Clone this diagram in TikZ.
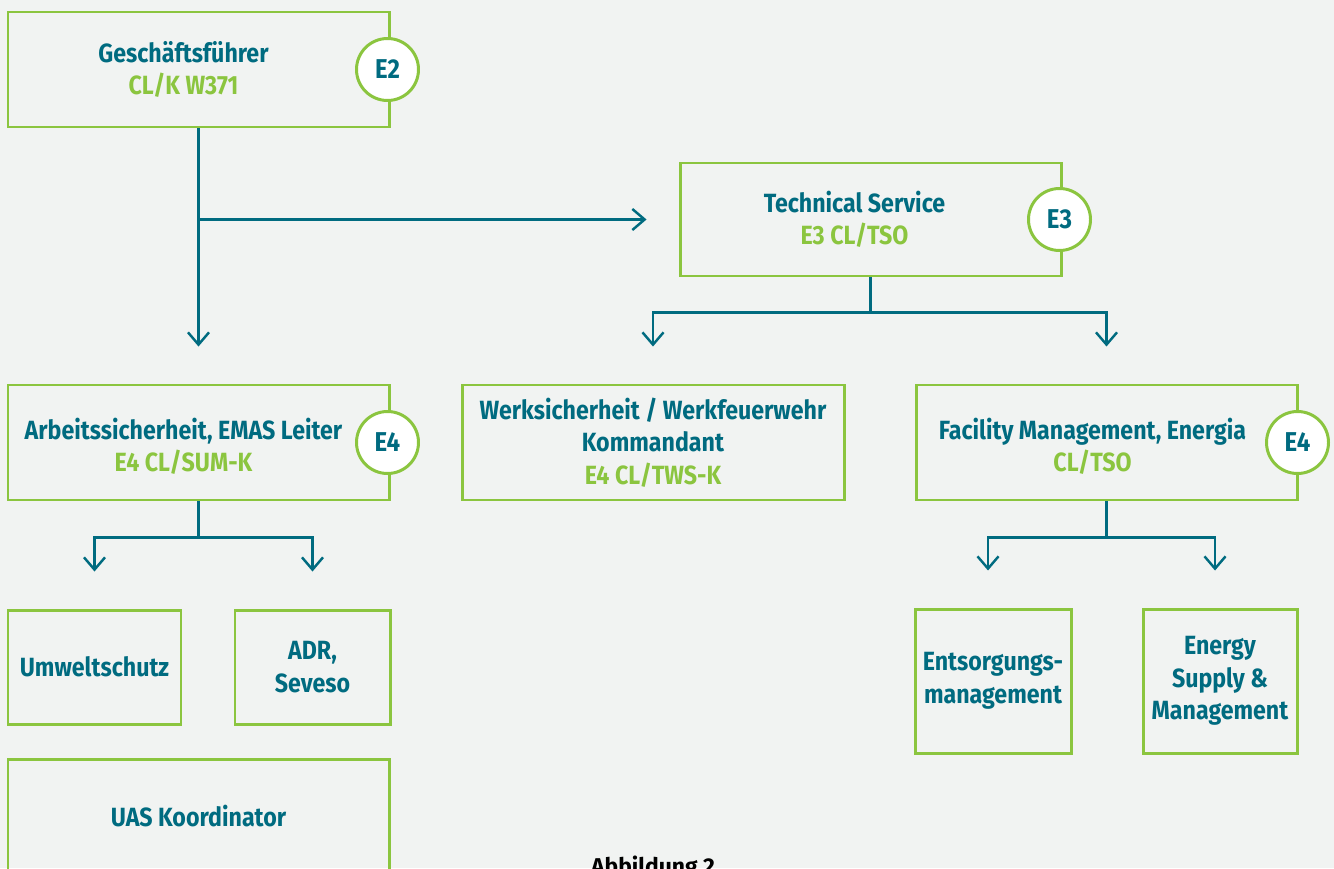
\documentclass[tikz,border=0pt]{standalone}
\usepackage{fontspec}
\setmainfont{Fira Sans}[FakeStretch=0.88]
\newfontfamily\captionfont{Fira Sans}
\usetikzlibrary{arrows.meta}

\definecolor{orgbg}{HTML}{F1F3F2}
\definecolor{orggreen}{HTML}{8BC53F}
\definecolor{orgteal}{HTML}{006B80}

% one unit = one pixel of the page
\newcommand{\pu}{0.02cm}
\newcommand{\unitcode}[1]{{\color{orggreen}#1}}

\tikzset{
  unit/.style 2 args={draw=orggreen, line width=1.7pt,
    minimum width=#1*\pu, minimum height=#2*\pu, inner sep=0pt},
  label text/.style={align=center, text=orgteal, inner sep=0pt,
    font=\fontsize{15}{18.5}\selectfont\bfseries},
  grade/.style={circle, draw=orggreen, fill=white, line width=1.7pt,
    minimum size=62*\pu, inner sep=0pt, text=orgteal,
    font=\fontsize{15.5}{18}\selectfont\bfseries},
  link/.style={draw=orgteal, line width=1.4pt},
  drop/.style={->, shorten >=0.74cm},
  >={Straight Barb[length=7pt,width=12pt]}
}

\begin{document}
\begin{tikzpicture}[x=\pu, y=-\pu]
    % page
    \fill[orgbg] (0,0) rectangle (1334,868);
    \useasboundingbox (0,0) rectangle (1334,868);

    % Boxes
    \node[unit={381}{115}] (gf)   at (198.5,69.5)  {};
    \node[unit={381}{113}] (ts)   at (870.5,219.5) {};
    \node[unit={381}{115}] (arb)  at (198.5,442.5) {};
    \node[unit={382}{115}] (werk) at (653,442.5)   {};
    \node[unit={381}{115}] (fac)  at (1106.5,442.5){};
    \node[unit={173}{114}] (umw)  at (94.5,667)    {};
    \node[unit={155}{114}] (adr)  at (312.5,667)   {};
    \node[unit={156}{144}] (ents) at (993,681)     {};
    \node[unit={154}{144}] (ener) at (1220,681)    {};
    \node[unit={381}{115}] (uas)  at (198.5,816.5) {};

    % Box texts (shifted left where a grade circle sits on the border)
    \node[label text] (gf-txt)   at ([xshift=-15*\pu]gf.center)  {Geschäftsführer\\\unitcode{CL/K W371}};
    \node[label text] (ts-txt)   at ([xshift=-16*\pu]ts.center)  {Technical Service\\\unitcode{E3 CL/TSO}};
    \node[label text] (arb-txt)  at ([xshift=-15*\pu,yshift=-4*\pu]arb.center) {Arbeitssicherheit, EMAS Leiter\\\unitcode{E4 CL/SUM-K}};
    \node[label text] (werk-txt) at (werk.center) {Werksicherheit / Werkfeuerwehr\\Kommandant\\\unitcode{E4 CL/TWS-K}};
    \node[label text] (fac-txt)  at ([xshift=-14*\pu,yshift=-4*\pu]fac.center) {Facility Management, Energia\\\unitcode{CL/TSO}};
    \node[label text] (umw-txt)  at (umw.center)  {Umweltschutz};
    \node[label text] (adr-txt)  at (adr.center)  {ADR,\\Seveso};
    \node[label text] (ents-txt) at (ents.center) {Entsorgungs-\\management};
    \node[label text] (ener-txt) at (ener.center) {Energy\\Supply \&\\Management};
    \node[label text] (uas-txt)  at (uas.center)  {UAS Koordinator};

    % Grade circles
    \node[grade] (gf-grade)  at ([xshift=-3*\pu]gf.east)  {E2};
    \node[grade] (ts-grade)  at ([xshift=-3*\pu]ts.east)  {E3};
    \node[grade] (arb-grade) at ([xshift=-3*\pu]arb.east) {E4};
    \node[grade] (fac-grade) at ([xshift=-1*\pu]fac.east) {E4};

    % Connectors
    \draw[link,drop] (gf.south) -- (arb.north);
    \draw[link,->,shorten >=0.64cm] (gf.south |- ts.west) -- (ts.west);

    \draw[link] (ts.south) -- ++(0,35) coordinate (ts-bus);
    \foreach \t in {werk,fac}
        \draw[link,drop] (ts-bus) -| (\t.north);

    \draw[link] (arb.south) -- ++(0,36) coordinate (arb-bus);
    \foreach \t in {umw,adr}
        \draw[link,drop] (arb-bus) -| (\t.north);

    \draw[link] (fac.south) -- ++(0,36) coordinate (fac-bus);
    \foreach \t in {ents,ener}
        \draw[link,drop] (fac-bus) -| ([xshift=-5*\pu]\t.north);

    % Caption
    \node[anchor=north, inner sep=0pt, font=\captionfont\fontsize{13}{16}\selectfont\bfseries]
        (caption) at (653,856) {Abbildung 2};
\end{tikzpicture}
\end{document}
